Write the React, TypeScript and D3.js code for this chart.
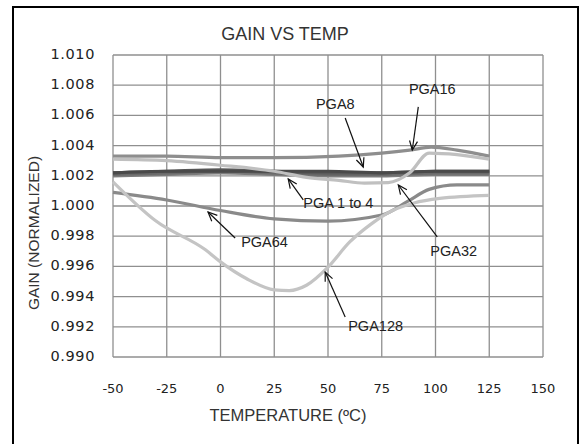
import * as d3 from 'd3';

// temperature (ºC) / normalized gain
const tPGA1 = [-50, -25, 0, 25, 50, 75, 100, 125];
const gPGA1 = [1.0020, 1.0021, 1.0022, 1.0021, 1.0020, 1.0020, 1.0021, 1.0021];
const tPGA2 = [-50, -25, 0, 25, 50, 75, 100, 125];
const gPGA2 = [1.0021, 1.0022, 1.0023, 1.0022, 1.0021, 1.0021, 1.0022, 1.0022];
const tPGA4 = [-50, -25, 0, 25, 50, 75, 100, 125];
const gPGA4 = [1.0022, 1.0023, 1.0024, 1.0023, 1.0022, 1.0022, 1.0023, 1.0023];
const tPGA8 = [-50, -25, 0, 25, 50, 75, 100, 125];
const gPGA8 = [1.0022, 1.0023, 1.0023, 1.0023, 1.0023, 1.0022, 1.0023, 1.0023];
const tPGA16 = [-50, -25, 0, 25, 55, 75, 88, 98, 110, 125];
const gPGA16 = [1.0033, 1.0033, 1.0032, 1.0032, 1.0033, 1.0035, 1.0037, 1.0039, 1.0037, 1.0033];
const tPGA32 = [-50, -25, 0, 25, 40, 55, 67, 78, 88, 97, 110, 125];
const gPGA32 = [1.0031, 1.0030, 1.0027, 1.0023, 1.0019, 1.0017, 1.00152, 1.00155, 1.0022, 1.0035, 1.0034, 1.0031];
const tPGA64 = [-50, -25, 0, 25, 50, 75, 87, 97, 110, 125];
const gPGA64 = [1.0009, 1.0004, 0.9997, 0.99915, 0.9990, 0.9994, 1.0003, 1.0011, 1.0014, 1.0014];
const tPGA128 = [-50, -30, -7, 0, 12, 25, 32, 40, 50, 60, 70, 80, 90, 102, 125];
const gPGA128 = [1.0016, 0.9990, 0.9971, 0.9963, 0.9952, 0.99445, 0.9944, 0.99475, 0.99595, 0.9976, 0.9988, 0.9997, 1.0002, 1.0005, 1.0007];

const xTicks = [-50, -25, 0, 25, 50, 75, 100, 125, 150];
const yTicks = [0.990, 0.992, 0.994, 0.996, 0.998, 1.0, 1.002, 1.004, 1.006, 1.008, 1.01];

// callouts: label text, label anchor, arrow tail, arrow tip (data units)
const calloutText = ['PGA16', 'PGA8', 'PGA 1 to 4', 'PGA64', 'PGA32', 'PGA128'];
const calloutAnchor = ['middle', 'middle', 'start', 'start', 'start', 'start'];
const calloutLabel = [[98.5, 1.00768], [53.4, 1.00669], [38.5, 1.00013], [9.6, 0.99755], [97.6, 0.99695], [59.4, 0.99199]];
const calloutTail = [[92, 1.00656], [58, 1.00583], [38.5, 1.0004], [6.8, 0.99788], [100.8, 0.99795], [58, 0.99265]];
const calloutTip = [[89.2, 1.00371], [66.4, 1.00258], [31.5, 1.00179], [-5.8, 0.9996], [82.7, 1.00139], [48.7, 0.99563]];

const series = [
  { name: 'PGA1', t: tPGA1, g: gPGA1, color: '#7c7c7c' },
  { name: 'PGA2', t: tPGA2, g: gPGA2, color: '#6a6a6a' },
  { name: 'PGA4', t: tPGA4, g: gPGA4, color: '#5a5a5a' },
  { name: 'PGA8', t: tPGA8, g: gPGA8, color: '#4a4a4a' },
  { name: 'PGA16', t: tPGA16, g: gPGA16, color: '#8e8e8e' },
  { name: 'PGA64', t: tPGA64, g: gPGA64, color: '#8a8a8a' },
  { name: 'PGA128', t: tPGA128, g: gPGA128, color: '#c4c4c4' },
  { name: 'PGA32', t: tPGA32, g: gPGA32, color: '#c0c0c0' },
];

const width = 579;
const height = 444;
const left = 113;
const right = 543;
const top = 55;
const bottom = 357;

const labelFont = '"Liberation Sans", Arial, sans-serif';
const tickFont = '"DejaVu Sans", Verdana, sans-serif';

export default function App() {
  const x = d3.scaleLinear().domain([-50, 150]).range([left, right]);
  const y = d3.scaleLinear().domain([0.99, 1.01]).range([bottom, top]);

  const line = d3
    .line<[number, number]>()
    .x((d) => x(d[0]))
    .y((d) => y(d[1]))
    .curve(d3.curveMonotoneX);

  return (
    <svg
      width={width}
      height={height}
      style={{ position: 'fixed', left: 0, top: 0, background: '#fff' }}
    >
      <defs>
        <marker
          id="arrow"
          markerUnits="userSpaceOnUse"
          markerWidth={12}
          markerHeight={12}
          refX={10}
          refY={5}
          orient="auto"
        >
          <path d="M1,1 L10,5 L1,9" fill="none" stroke="#111" strokeWidth={1.2} />
        </marker>
      </defs>

      <rect x={13} y={7} width={565} height={460} fill="#fff" stroke="#000" strokeWidth={2} />

      <text
        x={285}
        y={35}
        textAnchor="middle"
        dominantBaseline="middle"
        fontFamily={labelFont}
        fontSize={18}
        fill="#333"
      >
        GAIN VS TEMP
      </text>

      {/* grid */}
      <g stroke="#8f8f8f" strokeWidth={1.3}>
        {xTicks.map((t) => (
          <line key={'gx' + t} x1={x(t)} x2={x(t)} y1={top} y2={bottom} />
        ))}
        {yTicks.map((t) => (
          <line key={'gy' + t} x1={left} x2={right} y1={y(t)} y2={y(t)} />
        ))}
      </g>

      {/* tick labels */}
      {yTicks.map((t) => (
        <text
          key={'ly' + t}
          x={95}
          y={y(t)}
          textAnchor="end"
          dominantBaseline="middle"
          fontFamily={tickFont}
          fontSize={14.5}
          letterSpacing={0.6}
          fill="#222"
        >
          {d3.format('.3f')(t)}
        </text>
      ))}
      {xTicks.map((t) => (
        <text
          key={'lx' + t}
          x={x(t)}
          y={389}
          textAnchor="middle"
          dominantBaseline="middle"
          fontFamily={tickFont}
          fontSize={13}
          fill="#222"
        >
          {t}
        </text>
      ))}

      <text
        x={288}
        y={417}
        textAnchor="middle"
        dominantBaseline="middle"
        fontFamily={labelFont}
        fontSize={16.5}
        fill="#333"
      >
        TEMPERATURE (ºC)
      </text>
      <text
        transform="translate(35,233) rotate(-90)"
        textAnchor="middle"
        dominantBaseline="middle"
        fontFamily={labelFont}
        fontSize={15.5}
        fill="#333"
      >
        GAIN (NORMALIZED)
      </text>

      {/* curves */}
      {series.map((s) => (
        <path
          key={s.name}
          d={line(s.t.map((t, i) => [t, s.g[i]] as [number, number])) || ''}
          fill="none"
          stroke={s.color}
          strokeWidth={3.2}
          strokeLinecap="butt"
        />
      ))}

      {/* callouts */}
      {calloutText.map((txt, i) => (
        <g key={txt}>
          <line
            x1={x(calloutTail[i][0])}
            y1={y(calloutTail[i][1])}
            x2={x(calloutTip[i][0])}
            y2={y(calloutTip[i][1])}
            stroke="#111"
            strokeWidth={1.2}
            markerEnd="url(#arrow)"
          />
          <text
            x={x(calloutLabel[i][0])}
            y={y(calloutLabel[i][1])}
            textAnchor={calloutAnchor[i]}
            dominantBaseline="middle"
            fontFamily={labelFont}
            fontSize={14.5}
            fill="#222"
          >
            {txt}
          </text>
        </g>
      ))}
    </svg>
  );
}
